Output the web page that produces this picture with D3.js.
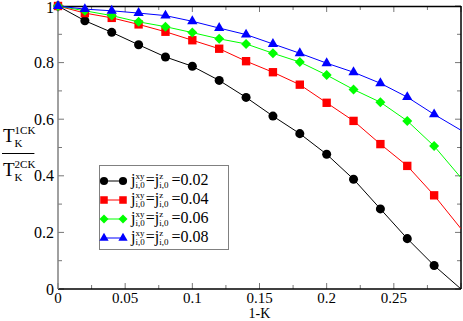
<!DOCTYPE html>
<html><head><meta charset="utf-8">
<script src="https://cdn.jsdelivr.net/npm/d3@7"></script>
<style>body{margin:0;background:#fff} svg{display:block} text{font-family:'Liberation Serif','Times New Roman',Times,Tinos,'DejaVu Serif','Noto Serif',serif;}</style>
</head><body><svg id="c" width="463" height="321"></svg>
<script>
const xValues=[0,0.02,0.04,0.06,0.08,0.10,0.12,0.14,0.16,0.18,0.20,0.22,0.24,0.26,0.28,0.30];
const j002=[1,0.948,0.907,0.863,0.820,0.787,0.737,0.677,0.611,0.549,0.476,0.388,0.283,0.178,0.083,0.0];
const j004=[1,0.975,0.958,0.935,0.909,0.879,0.849,0.805,0.766,0.722,0.658,0.594,0.512,0.435,0.331,0.213];
const j006=[1,0.983,0.966,0.944,0.927,0.906,0.884,0.866,0.833,0.802,0.756,0.705,0.660,0.594,0.505,0.393];
const j008=[1,0.989,0.983,0.975,0.966,0.946,0.922,0.899,0.866,0.833,0.798,0.766,0.727,0.678,0.617,0.561];
const seriesLabels=["0.02","0.04","0.06","0.08"];
const xTickValues=[0,0.05,0.10,0.15,0.20,0.25];
const xTickLabels=["0","0.05","0.1","0.15","0.2","0.25"];
const yTickValues=[0,0.2,0.4,0.6,0.8,1];
const yTickLabels=["0","0.2","0.4","0.6","0.8","1"];
const lastMarkedX=0.28;

const series=[
 {vals:j002,color:"#000000",sym:"circle"},
 {vals:j004,color:"#ff0000",sym:"square"},
 {vals:j006,color:"#00ff00",sym:"diamond"},
 {vals:j008,color:"#0000ff",sym:"triangle"}
];
const svg=d3.select("#c");
const L=58,R=461,T=6,B=289;
const x=d3.scaleLinear().domain([0,0.3]).range([L,R]);
const y=d3.scaleLinear().domain([0,1]).range([B,T]);

svg.append("defs").append("clipPath").attr("id","clip").append("rect")
 .attr("x",L).attr("y",T).attr("width",R-L).attr("height",B-T);

function symPath(kind,scale){
  scale=scale||1;
  if(kind==="circle") return d3.symbol(d3.symbolCircle,64*scale*scale)();
  if(kind==="square") return d3.symbol(d3.symbolSquare,70*scale*scale)();
  if(kind==="triangle") return d3.symbol(d3.symbolTriangle,46*scale*scale)();
  return d3.symbol(d3.symbolSquare,50*scale*scale)();
}

// ticks
const tickColor="#777";
const g=svg.append("g");
const xMinor=d3.range(0,0.3001,0.025);
const yMinor=d3.range(0,1.0001,0.1);
xMinor.forEach((v,i)=>{
  const major=(i%2===0);const len=major?6:4;
  g.append("line").attr("x1",x(v)).attr("x2",x(v)).attr("y1",B).attr("y2",B-len).attr("stroke",tickColor);
  g.append("line").attr("x1",x(v)).attr("x2",x(v)).attr("y1",T).attr("y2",T+len).attr("stroke",tickColor);
});
yMinor.forEach((v,i)=>{
  const major=(i%2===0);const len=major?6:4;
  g.append("line").attr("y1",y(v)).attr("y2",y(v)).attr("x1",L).attr("x2",L+len).attr("stroke",tickColor);
  g.append("line").attr("y1",y(v)).attr("y2",y(v)).attr("x1",R).attr("x2",R-len).attr("stroke",tickColor);
});
// frame
g.append("line").attr("x1",L).attr("x2",R).attr("y1",T+0.5).attr("y2",T+0.5).attr("stroke","#000").attr("stroke-width",1.5);
g.append("line").attr("x1",R).attr("x2",R).attr("y1",T).attr("y2",B).attr("stroke","#000").attr("stroke-width",1.5);
g.append("line").attr("x1",L).attr("x2",R).attr("y1",B).attr("y2",B).attr("stroke","#000").attr("stroke-width",1.5);
g.append("line").attr("x1",L).attr("x2",L).attr("y1",T).attr("y2",B).attr("stroke","#808080").attr("stroke-width",1.5);

// tick labels
xTickValues.forEach((v,i)=>{
  svg.append("text").attr("x",x(v)).attr("y",B+14).attr("text-anchor","middle")
   .attr("font-size",15).text(xTickLabels[i]);
});
yTickValues.forEach((v,i)=>{
  svg.append("text").attr("x",L-4).attr("y",Math.max(y(v)+5.5,13)).attr("text-anchor","end")
   .attr("font-size",16).text(yTickLabels[i]);
});
svg.append("text").attr("x",x(0.15)).attr("y",B+28.5).attr("text-anchor","middle")
 .attr("font-size",14).text("1-K");

// series
const plot=svg.append("g").attr("clip-path","url(#clip)");
const line=d3.line().x(d=>x(d[0])).y(d=>y(d[1]));
series.forEach(s=>{
  const pts=xValues.map((xv,i)=>[xv,s.vals[i]]);
  plot.append("path").datum(pts).attr("d",line).attr("fill","none").attr("stroke",s.color).attr("stroke-width",1);
});
series.forEach(s=>{
  const pts=xValues.map((xv,i)=>[xv,s.vals[i]]).filter(p=>p[0]<=lastMarkedX+1e-9);
  svg.append("g").selectAll("path").data(pts).join("path")
   .attr("d",symPath(s.sym))
   .attr("transform",d=>`translate(${x(d[0])},${y(d[1])})`+(s.sym==="diamond"?" rotate(45)":""))
   .attr("fill",s.color);
});

// scripted text helper
function scripted(parent,x0,yb,base,sup,sub,fs,ss,supDy,subDy){
  const t=parent.append("text").attr("x",x0).attr("y",yb).attr("font-size",fs).text(base);
  const wb=t.node().getComputedTextLength();
  let ws=0,wsub=0;
  if(sup){const a=parent.append("text").attr("x",x0+wb).attr("y",yb-supDy).attr("font-size",ss).text(sup);ws=a.node().getComputedTextLength();}
  if(sub){const b=parent.append("text").attr("x",x0+wb).attr("y",yb+subDy).attr("font-size",ss).text(sub);wsub=b.node().getComputedTextLength();}
  return wb+Math.max(ws,wsub);
}

// y label fraction
const yl=svg.append("g");
const wN=scripted(yl,3,142,"T","1CK","K",19,11,8,5);
yl.append("line").attr("x1",2).attr("x2",2+wN).attr("y1",153.5).attr("y2",153.5).attr("stroke","#000").attr("stroke-width",1);
scripted(yl,3,176,"T","2CK","K",19,11,8,5);

// legend
const lg=svg.append("g");
lg.append("rect").attr("x",99.5).attr("y",165.5).attr("width",129).attr("height",84)
 .attr("fill","#fff").attr("stroke","#808080").attr("stroke-width",1);
series.forEach((s,i)=>{
  const cy=181+i*19;
  lg.append("line").attr("x1",104).attr("x2",123).attr("y1",cy).attr("y2",cy).attr("stroke",s.color);
  [104,123].forEach(px=>{
    lg.append("path").attr("d",symPath(s.sym,0.9))
     .attr("transform",`translate(${px},${cy})`+(s.sym==="diamond"?" rotate(45)":"")).attr("fill",s.color);
  });
  const yb=cy+4;
  let cx=131;
  cx+=scripted(lg,cx,yb,"j","xy","i,0",16,9,6,3);
  cx+=1;
  cx+=scripted(lg,cx,yb,"=j","z","i,0",16,9,6,3);
  lg.append("text").attr("x",cx+3).attr("y",yb).attr("font-size",16).text("="+seriesLabels[i]);
});
</script></body></html>
